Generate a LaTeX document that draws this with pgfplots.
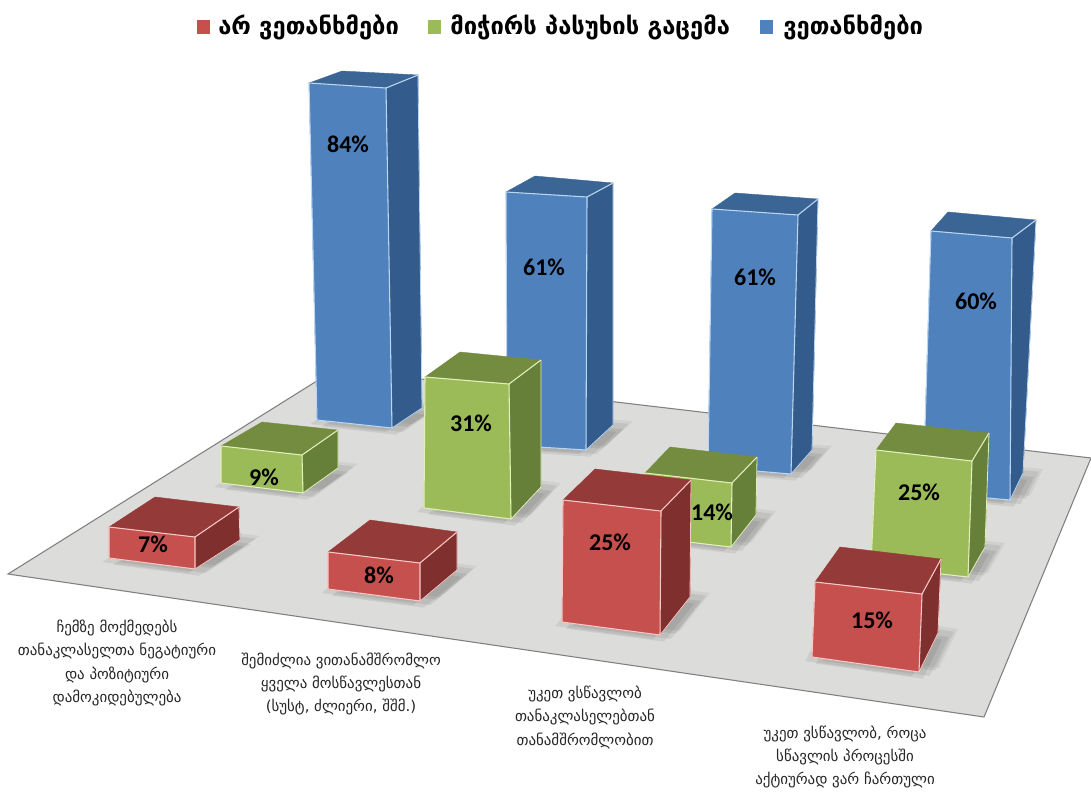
\documentclass[border=0pt]{standalone}
\usepackage{pgfplots}
\pgfplotsset{compat=1.18}
\usepackage{fontspec}
\setmainfont{DejaVu Sans}
\newfontfamily\pct{Carlito}[BoldFont=Carlito Bold]
\definecolor{bF}{HTML}{4F81BD}\definecolor{bS}{HTML}{335C8C}\definecolor{bT}{HTML}{3B6595}\definecolor{bE}{HTML}{BBD6F2}
\definecolor{gF}{HTML}{9BBB59}\definecolor{gS}{HTML}{66803A}\definecolor{gT}{HTML}{748C40}\definecolor{gE}{HTML}{E2EFBC}
\definecolor{rF}{HTML}{C5504E}\definecolor{rS}{HTML}{7F2F2D}\definecolor{rT}{HTML}{943A38}\definecolor{rE}{HTML}{F8C8C6}
\definecolor{floorc}{HTML}{DCDCDA}
% one bar: colour prefix, front TL, TR, BR, BL, side bottom back, top back right, top back left
\newcommand{\cube}[8]{%
  \addplot[fill=#1S,draw=#1S,line width=0.3pt] coordinates {#3 #7 #6 #4} --cycle;
  \addplot[fill=#1T,draw=#1T,line width=0.3pt] coordinates {#2 #3 #7 #8} --cycle;
  \addplot[fill=#1F,draw=#1F,line width=0.3pt] coordinates {#2 #3 #4 #5} --cycle;
  \addplot[draw=#1E,line width=0.8pt] coordinates {#5 #2 #3 #4 #5};
  \addplot[draw=#1E,line width=0.8pt] coordinates {#3 #7};
  \addplot[draw=#1E,line width=0.6pt] coordinates {#4 #6 #7};
}
% soft shadow of a bar's base: four base corners
\newcommand{\shad}[4]{%
  \addplot[fill=black,draw=none,fill opacity=0.07,xshift=-5pt,yshift=-3pt] coordinates {#1 #2 #3 #4} --cycle;
  \addplot[fill=black,draw=none,fill opacity=0.07,xshift=3pt,yshift=-5pt] coordinates {#1 #2 #3 #4} --cycle;
  \addplot[fill=black,draw=none,fill opacity=0.07,xshift=8pt,yshift=-3pt] coordinates {#1 #2 #3 #4} --cycle;
  \addplot[fill=black,draw=none,fill opacity=0.07,xshift=12pt,yshift=1pt] coordinates {#1 #2 #3 #4} --cycle;
  \addplot[fill=black,draw=none,fill opacity=0.05,xshift=15pt,yshift=3pt] coordinates {#1 #2 #3 #4} --cycle;
}
\newcommand{\pl}[3]{\node[font=\pct\fontsize{18}{20}\selectfont\bfseries,text=black,inner sep=0pt] at (#1,#2) {#3};}
\newcommand{\cat}[3]{\node[font=\fontsize{11.2}{17.6}\selectfont,text=black!85,align=center,inner sep=0pt] at (#1,#2) {#3};}
\newcommand{\leg}[3]{\node[font=\fontsize{17.8}{20}\selectfont\bfseries,anchor=west,inner sep=0pt] at (#1,#2) {#3};}
\begin{document}
\begin{tikzpicture}
\begin{axis}[hide axis,scale only axis,width=818.25pt,height=595.5pt,
  xmin=0,xmax=1091,ymin=0,ymax=794,y dir=reverse,clip=true]
% white page keeps the full 1091 x 794 extent
\addplot[fill=white,draw=none] coordinates {(0,0) (1091,0) (1091,794) (0,794)} --cycle;
% floor
\addplot[fill=floorc,draw=none] coordinates {(8,574) (336,369) (1091,458) (984,717)} --cycle;
\addplot[draw=black!50,line width=0.8pt] coordinates {(1091,458) (336,369) (8,574) (984,717) (1091,458)};
% shadows
\shad{(317,420)}{(392,428)}{(422,408)}{(347,400)}
\shad{(507,445)}{(586,450)}{(613,425)}{(534,420)}
\shad{(708,467)}{(791,474)}{(812,450)}{(729,443)}
\shad{(923,492)}{(1010,500)}{(1023,473)}{(936,465)}
\shad{(221,483)}{(303,493)}{(338,468)}{(256,458)}
\shad{(424,508)}{(511,519)}{(541,487)}{(454,476)}
\shad{(648,537)}{(731,547)}{(756,515)}{(673,505)}
\shad{(871,566)}{(968,577)}{(985,547)}{(888,536)}
\shad{(109,558)}{(195,569)}{(240,540)}{(154,529)}
\shad{(328,589)}{(420,601)}{(457,570)}{(365,558)}
\shad{(562,622)}{(660,635)}{(690,597)}{(592,584)}
\shad{(812,657)}{(919,672)}{(938,633)}{(831,618)}
% blue: agree 84, 61, 61, 60
\cube{b}{(309,83)}{(386,88)}{(392,428)}{(317,420)}{(422,408)}{(418,75)}{(342,71)}
\cube{b}{(506,192)}{(587,197)}{(586,450)}{(507,445)}{(613,425)}{(613,183)}{(535,176)}
\cube{b}{(712,209)}{(798,215)}{(791,474)}{(708,467)}{(812,450)}{(818,199)}{(735,193)}
\cube{b}{(931,231)}{(1012,238)}{(1010,500)}{(923,492)}{(1023,473)}{(1036,220)}{(948,212)}
% green: 9, 31, 14, 25
\cube{g}{(221,446)}{(302,455)}{(303,493)}{(221,483)}{(338,468)}{(338,430)}{(262,422)}
\cube{g}{(425,377)}{(509,384)}{(511,519)}{(424,508)}{(541,487)}{(541,360)}{(460,352)}
\cube{g}{(645,473)}{(732,483)}{(731,547)}{(645,537)}{(756,515)}{(757,457)}{(670,447)}
\cube{g}{(876,450)}{(972,461)}{(968,577)}{(871,566)}{(985,547)}{(989,433)}{(896,423)}
% red: 7, 8, 25, 15
\cube{r}{(109,527)}{(195,537)}{(195,569)}{(109,558)}{(240,540)}{(239,507)}{(155,497)}
\cube{r}{(328,552)}{(420,563)}{(420,601)}{(328,589)}{(457,570)}{(457,532)}{(370,520)}
\cube{r}{(563,500)}{(661,511)}{(660,635)}{(562,622)}{(690,597)}{(691,480)}{(595,469)}
\cube{r}{(815,582)}{(922,594)}{(919,672)}{(812,657)}{(938,633)}{(941,559)}{(840,547)}
% legend swatches
\addplot[fill=rF,draw=none] coordinates {(197,20) (210,20) (210,34) (197,34)} --cycle;
\addplot[fill=gF,draw=none] coordinates {(428,20) (441,20) (441,34) (428,34)} --cycle;
\addplot[fill=bF,draw=none] coordinates {(760,20) (773,20) (773,34) (760,34)} --cycle;
\leg{218}{27}{არ ვეთანხმები}
\leg{450}{27}{მიჭირს პასუხის გაცემა}
\leg{783}{27}{ვეთანხმები}
% value labels
\pl{348}{144}{84\%}\pl{544}{267}{61\%}\pl{755}{277}{61\%}\pl{976}{301}{60\%}
\pl{264}{477}{9\%}\pl{471}{423}{31\%}\pl{712}{512}{14\%}\pl{919}{492}{25\%}
\pl{153}{544}{7\%}\pl{379}{575}{8\%}\pl{610}{542}{25\%}\pl{872}{620}{15\%}
% category labels
\cat{117}{663}{ჩემზე მოქმედებს\\თანაკლასელთა ნეგატიური\\და პოზიტიური\\დამოკიდებულება}
\cat{341}{684}{შემიძლია ვითანამშრომლო\\ყველა მოსწავლესთან\\(სუსტ, ძლიერი, შშმ.)}
\cat{585}{717}{უკეთ ვსწავლობ\\თანაკლასელებთან\\თანამშრომლობით}
\cat{845}{757}{უკეთ ვსწავლობ, როცა\\სწავლის პროცესში\\აქტიურად ვარ ჩართული}
\end{axis}
\end{tikzpicture}
\end{document}
